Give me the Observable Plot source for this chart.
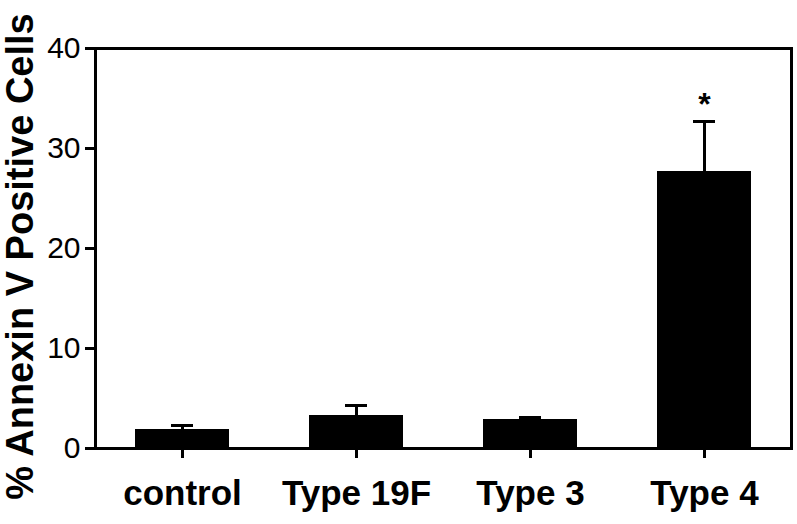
<!DOCTYPE html>
<html><head><meta charset="utf-8">
<script src="https://cdn.jsdelivr.net/npm/d3@7"></script>
<script src="https://cdn.jsdelivr.net/npm/@observablehq/plot@0.6"></script>
<style>body{margin:0;background:#fff}</style>
</head><body><div id="chart"></div>
<script>
const categories = ["control", "Type 19F", "Type 3", "Type 4"];
const means = [1.9, 3.3, 2.9, 27.7];
const errors = [0.4, 1.0, 0.2, 5.0];
const significance = ["", "", "", "*"];
const yTicks = [0, 10, 20, 30, 40];
const yLabel = "% Annexin V Positive Cells";

const data = categories.map((c, i) => ({cat: c, mean: means[i], top: means[i] + errors[i], sig: significance[i]}));

const chart = Plot.plot({
  width: 797, height: 524,
  marginLeft: 95, marginRight: 6, marginTop: 48, marginBottom: 76,
  style: {background: "#fff", color: "#000", fontFamily: "'Liberation Sans', Arial, sans-serif"},
  x: {domain: categories, paddingInner: 0.46, paddingOuter: 0.23},
  y: {domain: [0, 40]},
  marks: [
    Plot.barY(data, {x: "cat", y: "mean", fill: "#000"}),
    Plot.ruleX(data, {x: "cat", y1: "mean", y2: "top", stroke: "#000", strokeWidth: 3}),
    Plot.tickY(data, {x: "cat", y: "top", stroke: "#000", strokeWidth: 3, insetLeft: 36, insetRight: 36}),
    Plot.text(data.filter(d => d.sig), {x: "cat", y: "top", text: "sig", dy: -17, fontSize: 32, fontWeight: "bold"}),
    Plot.frame({stroke: "#000", strokeWidth: 3}),
    Plot.axisY({ticks: yTicks, tickSize: 10, tickPadding: 5, fontSize: 30, label: null, strokeWidth: 3}),
    Plot.axisX({tickSize: 10, tickPadding: 22, fontSize: 35, fontWeight: "bold", label: null, strokeWidth: 3}),
    Plot.text([yLabel], {frameAnchor: "left", textAnchor: "middle", dx: -75, dy: 8, rotate: -90, fontSize: 38, fontWeight: "bold"})
  ]
});
document.getElementById("chart").appendChild(chart);
</script>
</body></html>
